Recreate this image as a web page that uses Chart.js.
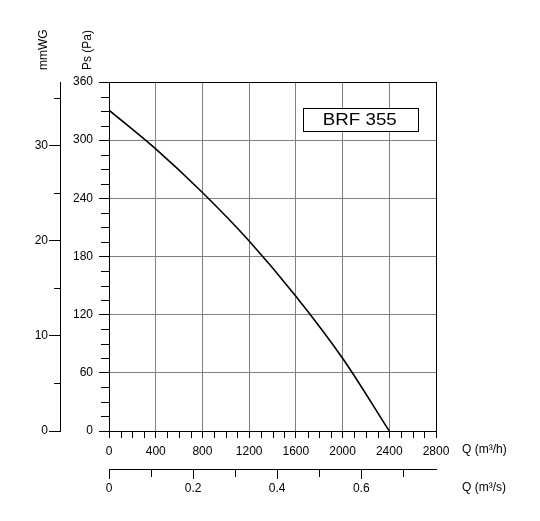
<!DOCTYPE html>
<html>
<head>
<meta charset="utf-8">
<script src="https://cdn.jsdelivr.net/npm/chart.js@4/dist/chart.umd.min.js"></script>
<style>
  html, body { margin: 0; padding: 0; background: #fff; }
  canvas { display: block; }
</style>
</head>
<body>
<canvas id="fanChart" width="540" height="521"></canvas>
<script>
// fan curve BRF 355 — static pressure vs air flow
const flowM3h = [0, 400, 800, 1200, 1600, 2000, 2400];
const pressurePa = [331, 291, 246, 196, 139, 75, 0];

const flowTicks = [0, 400, 800, 1200, 1600, 2000, 2400, 2800];
const flowMinor = [100, 200, 300, 500, 600, 700, 900, 1000, 1100, 1300, 1400, 1500, 1700, 1800, 1900, 2100, 2200, 2300, 2500, 2600, 2700];
const flowSecTicks = [0, 0.2, 0.4, 0.6];
const flowSecMinor = [0.1, 0.3, 0.5, 0.7];
const paTicks = [0, 60, 120, 180, 240, 300, 360];
const paMinor = [15, 30, 45, 75, 90, 105, 135, 150, 165, 195, 210, 225, 255, 270, 285, 315, 330, 345];
const wgTicks = [0, 10, 20, 30];
const wgMinor = [5, 15, 25, 35];

const FONT = 'Liberation Sans, Arial, sans-serif';
const GRID = '#808080';

function setTicks(list) {
  return scale => { scale.ticks = list.map(v => ({ value: v })); };
}
function fixW(w) { return scale => { scale.width = w; }; }
function fixH(h) { return scale => { scale.height = h; }; }

const minorTicks = {
  id: 'minorTicks',
  afterDraw(chart) {
    const ctx = chart.ctx;
    const sets = [['x', flowMinor, 7], ['x2', flowSecMinor, 8], ['y', paMinor, 8], ['y2', wgMinor, 6]];
    ctx.save();
    ctx.strokeStyle = '#000';
    ctx.lineWidth = 1;
    ctx.beginPath();
    sets.forEach(([id, vals, len]) => {
      const s = chart.scales[id];
      vals.forEach(v => {
        const p = Math.round(s.getPixelForValue(v)) + 0.5;
        if (s.isHorizontal()) {
          ctx.moveTo(p, s.top); ctx.lineTo(p, s.top + len);
        } else {
          ctx.moveTo(s.right, p); ctx.lineTo(s.right - len, p);
        }
      });
    });
    ctx.stroke();
    ctx.restore();
  }
};

const labels = {
  id: 'labels',
  afterDraw(chart) {
    const ctx = chart.ctx;
    const a = chart.chartArea;
    const x = chart.scales.x, x2 = chart.scales.x2, y = chart.scales.y, y2 = chart.scales.y2;
    ctx.save();
    ctx.fillStyle = '#000';
    ctx.font = '12px ' + FONT;
    // rotated axis titles
    ctx.textAlign = 'left';
    ctx.textBaseline = 'middle';
    [['mmWG', y2.right - 16], ['Ps (Pa)', y.left + 28]].forEach(([t, cx]) => {
      ctx.save();
      ctx.translate(cx, a.top - 12);
      ctx.rotate(-Math.PI / 2);
      ctx.fillText(t, 0, 0);
      ctx.restore();
    });
    // flow unit labels
    ctx.fillText('Q (m\u00b3/h)', a.right + 26, x.top + 19);
    ctx.fillText('Q (m\u00b3/s)', a.right + 26, x2.top + 19);

    // model box
    const bx0 = x.getPixelForValue(1657), bx1 = x.getPixelForValue(2638);
    const by0 = y.getPixelForValue(333), by1 = y.getPixelForValue(309);
    ctx.fillStyle = '#fff';
    ctx.fillRect(bx0, by0, bx1 - bx0, by1 - by0);
    ctx.strokeStyle = '#000';
    ctx.lineWidth = 1;
    ctx.strokeRect(Math.round(bx0) + 0.5, Math.round(by0) + 0.5, Math.round(bx1 - bx0), Math.round(by1 - by0));
    ctx.fillStyle = '#000';
    ctx.font = '16px ' + FONT;
    ctx.textAlign = 'center';
    const t = 'BRF 355';
    const k = 74 / ctx.measureText(t).width;
    ctx.translate((bx0 + bx1) / 2, (by0 + by1) / 2 + 1);
    ctx.scale(k, 1);
    ctx.fillText(t, 0, 0);
    ctx.restore();
  }
};

new Chart(document.getElementById('fanChart'), {
  type: 'line',
  data: {
    datasets: [{
      data: flowM3h.map((q, i) => ({ x: q, y: pressurePa[i] })),
      borderColor: '#000',
      borderWidth: 1.6,
      pointRadius: 0,
      cubicInterpolationMode: 'monotone',
      fill: false
    }]
  },
  options: {
    responsive: false,
    animation: false,
    devicePixelRatio: 1,
    layout: { padding: { left: 0, top: 82, right: 104, bottom: 22 } },
    plugins: { legend: { display: false }, tooltip: { enabled: false } },
    scales: {
      x: {
        type: 'linear', position: 'bottom', weight: 0, min: 0, max: 2800,
        afterBuildTicks: setTicks(flowTicks), afterFit: fixH(38),
        grid: { color: c => c.tick.value === 2800 ? '#000' : GRID, tickColor: '#000', tickLength: 7, lineWidth: 1 },
        border: { color: '#000', width: 1 },
        ticks: { color: '#000', font: { family: FONT, size: 12 }, padding: 6, maxRotation: 0, autoSkip: false, callback: v => String(v) }
      },
      x2: {
        type: 'linear', position: 'bottom', weight: 1, min: 0, max: 2800 / 3600,
        afterBuildTicks: setTicks(flowSecTicks), afterFit: fixH(30),
        grid: { drawOnChartArea: false, tickColor: '#000', tickLength: 10 },
        border: { color: '#000', width: 1 },
        ticks: { color: '#000', font: { family: FONT, size: 12 }, padding: 2, maxRotation: 0, autoSkip: false, callback: v => String(v) }
      },
      y: {
        type: 'linear', position: 'left', weight: 0, min: 0, max: 360,
        afterBuildTicks: setTicks(paTicks), afterFit: fixW(49),
        grid: { color: c => (c.tick.value === 360 || c.tick.value === 0) ? '#000' : GRID, tickColor: '#000', tickLength: 10, lineWidth: 1 },
        border: { color: '#000', width: 1 },
        ticks: { color: '#000', font: { family: FONT, size: 12 }, padding: 6, callback: v => String(v) }
      },
      y2: {
        type: 'linear', position: 'left', weight: 1, min: 0, max: 360 / 9.80665,
        afterBuildTicks: setTicks(wgTicks), afterFit: fixW(60),
        grid: { drawOnChartArea: false, tickColor: '#000', tickLength: 11 },
        border: { color: '#000', width: 1 },
        ticks: { color: '#000', font: { family: FONT, size: 12 }, padding: 1, callback: v => String(v) }
      }
    }
  },
  plugins: [minorTicks, labels]
});
</script>
</body>
</html>
